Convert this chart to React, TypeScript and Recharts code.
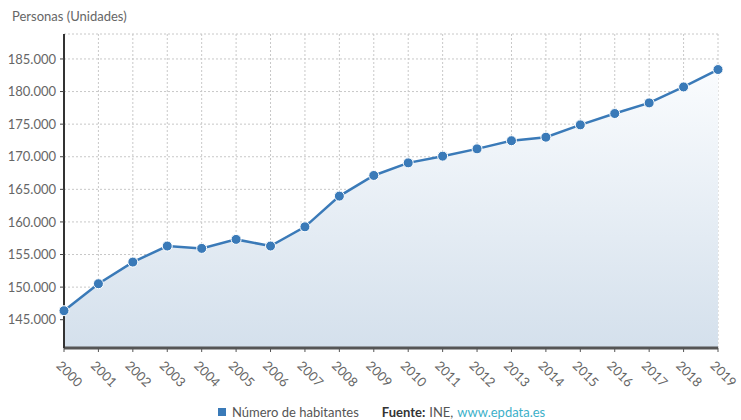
import React from 'react';
import { AreaChart, Area, XAxis, YAxis, CartesianGrid } from 'recharts';

const years = ['2000','2001','2002','2003','2004','2005','2006','2007','2008','2009','2010','2011','2012','2013','2014','2015','2016','2017','2018','2019'];
const habitantes = [146380,150520,153840,156300,155940,157320,156300,159250,163960,167130,169060,170090,171210,172460,173000,174890,176630,178260,180710,183380];
const yTicks = [145000,150000,155000,160000,165000,170000,175000,180000,185000];

const data = years.map((y, i) => ({ year: y, value: habitantes[i] }));

const FONT = 'Lato, "Noto Sans", sans-serif';

const fmt = (v: number) => String(v).replace(/\B(?=(\d{3})+(?!\d))/g, '.');

const XTick = (props: any) => {
  const { x, y, payload } = props;
  return (
    <g transform={`translate(${x - 2},${y + 6})`}>
      <text transform="rotate(45)" textAnchor="start" dy="0.7em" fill="#666" fontSize={13} fontFamily={FONT}>
        {payload.value}
      </text>
    </g>
  );
};

export default function App() {
  return (
    <div style={{ position: 'absolute', left: 0, top: 0, width: 741, height: 420, background: '#fff', fontFamily: FONT }}>
      <div style={{ position: 'absolute', left: 12, top: 8, fontSize: 13, color: '#666' }}>Personas (Unidades)</div>
      <AreaChart width={741} height={420} data={data} margin={{ top: 34, right: 23, bottom: 22, left: 0 }}>
        <defs>
          <linearGradient id="fillG" x1="0" y1="0" x2="0" y2="1">
            <stop offset="0%" stopColor="#fafcfe" />
            <stop offset="100%" stopColor="#d4e0ec" />
          </linearGradient>
        </defs>
        <CartesianGrid stroke="#c8c8c8" strokeDasharray="2 2" />
        <XAxis dataKey="year" height={50} tick={<XTick />} interval={0}
          axisLine={{ stroke: '#555', strokeWidth: 3 }} tickLine={{ stroke: '#555' }} tickSize={4} />
        <YAxis width={64} domain={[140660, 188830]} ticks={yTicks} tickFormatter={fmt}
          axisLine={{ stroke: '#333', strokeWidth: 2 }} tickLine={{ stroke: '#444' }} tickSize={4} tickMargin={4}
          tick={{ fill: '#666', fontSize: 13, fontFamily: FONT }} allowDataOverflow />
        <Area type="linear" dataKey="value" stroke="#3a7ab8" strokeWidth={2.5} fill="url(#fillG)" fillOpacity={1}
          dot={{ r: 5, fill: '#3a7ab8', stroke: '#fff', strokeWidth: 1 }} activeDot={false} isAnimationActive={false} />
      </AreaChart>
      <div style={{ position: 'absolute', left: 218, top: 404, fontSize: 13, color: '#555', display: 'flex', alignItems: 'center', whiteSpace: 'nowrap' }}>
        <span style={{ display: 'inline-block', width: 8, height: 8, background: '#3a7ab8', marginRight: 6 }} />
        <span>Número de habitantes</span>
        <span style={{ marginLeft: 23, color: '#333', fontWeight: 'bold' }}>Fuente:</span>
        <span style={{ marginLeft: 4, color: '#555' }}>INE, </span>
        <span style={{ marginLeft: 4, color: '#3bb0c9' }}>www.epdata.es</span>
      </div>
    </div>
  );
}
